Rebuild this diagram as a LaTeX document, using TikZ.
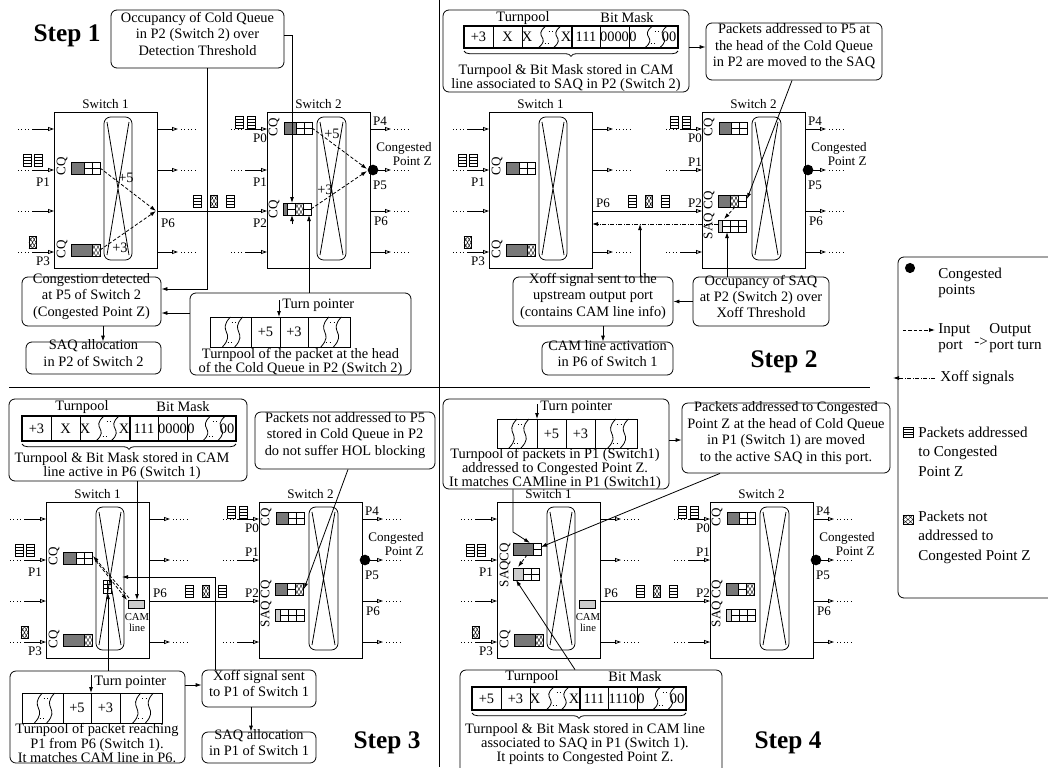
\documentclass[tikz,border=0pt]{standalone}
\usepackage{fontspec}
\setmainfont{Liberation Serif}
\usetikzlibrary{arrows.meta,positioning,fit,calc,decorations.pathreplacing}

\definecolor{qdark}{gray}{0.47}
\definecolor{qlight}{gray}{0.8}

\newcommand{\bxf}{\fontsize{10.8}{12.3}\selectfont}
\newcommand{\lbf}{\fontsize{9.8}{10.5}\selectfont}

% packet icons, centre given
\newcommand{\pktA}[2]{%
  \draw[fill=white] (#1-4,#2-6) rectangle (#1+4,#2+6);
  \draw (#1-4,#2-3) -- (#1+4,#2-3) (#1-4,#2) -- (#1+4,#2) (#1-4,#2+3) -- (#1+4,#2+3);}
\newcommand{\pktN}[2]{%
  \draw[fill=white] (#1-3.5,#2-6) rectangle (#1+3.5,#2+6);
  \draw[line width=0.3pt] (#1-3.5,#2-6) -- (#1+3.5,#2+6) (#1+3.5,#2-6) -- (#1-3.5,#2+6)
    (#1,#2-6) -- (#1+3.5,#2) -- (#1,#2+6) -- (#1-3.5,#2) -- cycle;}
% queue cells, top left corner given
\newcommand{\qhead}[4]{\draw[fill=#4] (#1,#2) rectangle ++(#3,12);}
\newcommand{\qcellA}[2]{\draw (#1,#2) rectangle ++(8,12) (#1,#2+6) -- ++(8,0);}
\newcommand{\qcellN}[2]{%
  \draw (#1,#2) rectangle ++(8,12);
  \draw[line width=0.3pt] (#1,#2) -- ++(8,12) (#1+8,#2) -- ++(-8,12)
    (#1+4,#2) -- (#1+8,#2+6) -- (#1+4,#2+12) -- (#1,#2+6) -- cycle;}
% two wavy cuts in a cell
\newcommand{\wavepair}[4]{%
  \pgfmathsetmacro{\wva}{#1+0.4*(#2-#1)}%
  \pgfmathsetmacro{\wvb}{#1+0.7*(#2-#1)}%
  \pgfmathsetmacro{\wvm}{(#3+#4)/2}%
  \foreach \wx in {\wva,\wvb}
    \draw (\wx+4,#3) .. controls (\wx-10,\wvm) and (\wx+10,\wvm) .. (\wx-4,#4);
  \draw[dotted] ({(\wva+\wvb)/2-1},#3+5) -- ++(6,0);
  \draw[dotted] ({(\wva+\wvb)/2-5},#4-5) -- ++(6,0);}
% turnpool row
\newcommand{\turnrow}[8]{%
  \draw (#1,#6) rectangle (#5,#7);
  \draw (#2,#6) -- (#2,#7) (#3,#6) -- (#3,#7) (#4,#6) -- (#4,#7);
  \wavepair{#1}{#2}{#6}{#7}
  \wavepair{#4}{#5}{#6}{#7}
  \node[cell] (#8a) at ({(#2+#3)/2},{(#6+#7)/2}) {+5};
  \node[cell] (#8b) at ({(#3+#4)/2},{(#6+#7)/2}) {+3};}
% turnpool + bit mask row
\newcommand{\camrow}[7]{%
  \begin{scope}[shift={(#1,0)}]
  \draw (29,#2) -- (29,#3) (58,#2) -- (58,#3) (136,#2) -- (136,#3) (165,#2) -- (165,#3);
  \draw[line width=1pt] (0,#2) rectangle (214,#3) (108,#2) -- (108,#3);
  \node[cell] (#7c1) at (14.5,{(#2+#3)/2}) {#4};
  \node[cell] (#7c2) at (43.5,{(#2+#3)/2}) {#5};
  \wavepair{58}{108}{#2}{#3}
  \node[cell] (#7x1) at (63,{(#2+#3)/2}) {X};
  \node[cell] (#7x2) at (102,{(#2+#3)/2}) {X};
  \node[cell] (#7c4) at (122,{(#2+#3)/2}) {111};
  \node[cell] (#7c5) at (150.5,{(#2+#3)/2}) {#6};
  \wavepair{165}{214}{#2}{#3}
  \node[cell] (#7z1) at (169,{(#2+#3)/2}) {0};
  \node[cell] (#7z2) at (205,{(#2+#3)/2}) {00};
  \draw[decorate,decoration={brace,mirror,amplitude=4pt}] (0,{#3+3}) -- (214,{#3+3});
  \end{scope}}
% the two switches of one step
\newcommand{\twoswitches}[5]{%
  \begin{scope}[shift={(#1,#2)}]
  % switch 1
  \draw (54,112) rectangle (157,268);
  \draw[rounded corners=5pt] (104,117) rectangle (132,260);
  \draw (107,122) -- (129,255) (129,122) -- (107,255);
  \node[lbl] (#3sw1) at (105.5,104) {Switch 1};
  \foreach \y in {129,170,211,252} {
    \draw[dotted] (18,\y) -- (31,\y);
    \draw[port] (32,\y) -- (54,\y);}
  \foreach \y in {129,170,252} {
    \draw[port] (157,\y) -- (178,\y);
    \draw[dotted] (181,\y) -- (197,\y);}
  \draw[port] (157,211) -- (267,211);
  \node[lbl] (#3p1) at (43,182) {P1};
  \node[lbl] (#3p3) at (43,261) {P3};
  \node[lbl] (#3p6) at (168,{211+(#4)}) {P6};
  \pktA{27}{160} \pktA{38}{160}
  \pktN{32.5}{242.5}
  \pktA{197}{201} \pktN{214}{201} \pktA{230}{201}
  % switch 2
  \draw (267,112) rectangle (370,268);
  \draw[rounded corners=5pt] (317,117) rectangle (346,260);
  \draw (320,122) -- (343,255) (343,122) -- (320,255);
  \node[lbl] (#3sw2) at (318.5,104) {Switch 2};
  \foreach \y in {129,170,252} {
    \draw[dotted] (231,\y) -- (244,\y);
    \draw[port] (245,\y) -- (267,\y);}
  \foreach \y in {129,170,211,252} {
    \draw[port] (370,\y) -- (391,\y);
    \draw[dotted] (394,\y) -- (410,\y);}
  \fill (373,170) circle[radius=4pt];
  \node[lbl] (#3q0) at (260,138) {P0};
  \node[lbl] (#3q1) at (260,{170+(#4)}) {P1};
  \node[lbl] (#3q2) at (260,{211+(#4)}) {P2};
  \node[lbl] (#3q4) at (380,121) {P4};
  \node[lbl] (#3q5) at (380,185) {P5};
  \node[lbl] (#3q6) at (381,221) {P6};
  \node[lbl,align=right,anchor=east] (#3cz) at (432,154) {Congested\\Point Z};
  \pktA{239}{122} \pktA{251}{122}
  % queues common to all steps
  \node[lbl,rotate=90] (#3c3) at (62,249) {CQ};
  \qhead{71}{244}{21}{qdark}\qcellN{92}{244}
  \node[lbl,rotate=90] (#3c0) at (274,127) {CQ};
  \qhead{284}{122}{12}{qdark}\qcellA{296}{122}\qcellA{304}{122}
  #5
  \end{scope}}

\begin{document}
\begin{tikzpicture}[x=0.75pt,y=-0.75pt,line width=0.6pt,
  box/.style={draw,rounded corners=4.5pt,inner sep=0pt,align=center,font=\bxf},
  lbl/.style={inner sep=0pt,align=center,font=\lbf},
  cell/.style={inner sep=0pt,align=center,font=\bxf},
  capt/.style={inner sep=0pt,align=center,font=\fontsize{10.8}{9.3}\selectfont},
  sml/.style={inner sep=0pt,font=\fontsize{8}{9}\selectfont},
  legt/.style={inner sep=0pt,align=left,anchor=west,font=\fontsize{11.3}{12.5}\selectfont},
  legp/.style={legt,font=\fontsize{11.3}{14.6}\selectfont},
  arr/.style={-{Latex[length=4.5pt,width=3pt]}},
  port/.style={-{Triangle[open,length=4.5pt,width=3pt]}},
  dsh/.style={arr,dash pattern=on 2.5pt off 1.5pt},
  xoff/.style={arr,dash pattern=on 3pt off 1.2pt on 0.6pt off 1.2pt},
  steplbl/.style={inner sep=0pt,font=\fontsize{19}{20}\selectfont\bfseries}]
\useasboundingbox (0,0) rectangle (1048,767);

\draw (439,0) -- (439,767);
\draw (9,387) -- (870,387);

% ---------------- Step 1
\node[steplbl] (st1) at (67,36) {Step 1};
\twoswitches{0}{0}{a}{12.5}{%
  \node[lbl,rotate=90] (ac1) at (62,166) {CQ};
  \qhead{71}{162}{13}{qdark}\qcellA{84}{162}\qcellA{92}{162}
  \node[lbl,rotate=90] (ac2) at (274,209) {CQ};
  \qhead{283}{203}{4}{qdark}\qcellA{287}{203}\qcellN{295}{203}\qcellA{303}{203}
  \draw[dsh] (100,168) -- (156,211);
  \draw[dsh] (100,250) -- (156,211);
  \node[cell] (aw5) at (126,178) {+5};
  \node[cell] (aw3) at (120,248) {+3};
  \draw[dsh] (312,128) -- (367,169);
  \draw[dsh] (311,209) -- (367,171);
  \node[cell] (av5) at (332,134) {+5};
  \node[cell] (av3) at (325,190) {+3};
  \draw[arr] (292,224) -- (292,215);
  \coordinate (aq2top) at (292,203);
  \coordinate (aq2bot) at (309,215);
}
\node[box,fit={(111,10)(284,68)}] (occ1) {Occupancy of Cold Queue\\in P2 (Switch 2) over\\Detection Threshold};
\node[box,fit={(22,277)(161,326)}] (cong1) {Congestion detected\\at P5 of Switch 2\\(Congested Point Z)};
\node[box,fit={(26,342)(161,374)}] (saq1) {SAQ allocation\\in P2 of Switch 2};
\node[box,fit={(190,293)(411,375)}] (tp1) {};
\draw[arr] (279,300) -- (279,317);
\node[cell,anchor=west] (tp1ptr) at (282,305) {Turn pointer};
\turnrow{210}{251}{280}{308}{350}{317}{347}{tp1}
\node[capt] (tp1txt) at (300.5,362) {Turnpool of the packet at the head\\of the Cold Queue in P2 (Switch 2)};
\draw[arr] ([yshift=3pt]occ1.east) -| (aq2top);
\coordinate (c1a) at (207,289);
\draw[arr] (occ1.south -| c1a) |- (cong1.east |- c1a);
\coordinate (c1b) at (0,313);
\draw[arr] (tp1.west |- c1b) -- (cong1.east |- c1b);
\coordinate (c1c) at (103,0);
\draw[arr] (cong1.south -| c1c) -- (saq1.north -| c1c);
\draw[arr] (tp1.north -| aq2bot) -- (aq2bot);

% ---------------- Step 2
\node[steplbl] (st2) at (784,362) {Step 2};
\twoswitches{435}{0}{b}{-8}{%
  \node[lbl,rotate=90] (bc1) at (62,166) {CQ};
  \qhead{71}{162}{13}{qdark}\qcellA{84}{162}\qcellA{92}{162}
  \node[lbl,rotate=90] (bc2) at (274,200) {CQ};
  \qhead{283}{195}{12}{qdark}\qcellN{295}{195}\qcellA{303}{195}
  \node[lbl,rotate=90] (bs2) at (274,226) {SAQ};
  \qhead{283}{220}{4}{qlight}\qcellA{287}{220}\qcellA{295}{220}\qcellA{303}{220}
  \draw[dsh] (300,207) -- (289,219);
  \coordinate (bq2r) at (312,199);
  \coordinate (bs2b) at (292,232);
  \coordinate (bs2l) at (283,224);
  \coordinate (bp6) at (157,224);
}
\node[box,fit={(443,10)(689,92)}] (cam2) {};
\node[cell] (cam2tp) at (523,18) {Turnpool};
\node[cell] (cam2bm) at (627,18) {Bit Mask};
\camrow{464}{26}{48}{+3}{X}{0000}{cam2}
\node[capt] (cam2txt) at (566,78) {Turnpool \& Bit Mask stored in CAM\\line associated to SAQ in P2 (Switch 2)};
\node[box,fit={(706,23)(882,80)}] (mov2) {Packets addressed to P5 at\\the head of the Cold Queue\\in P2 are moved to the SAQ};
\node[box,fit={(513,277)(673,326)}] (xoff2) {Xoff signal sent to the\\upstream output port\\(contains CAM line info)};
\node[box,fit={(542,342)(673,375)}] (act2) {CAM line activation\\in P6 of Switch 1};
\node[box,fit={(693,277)(829,326)}] (occ2) {Occupancy of SAQ\\at P2 (Switch 2) over\\Xoff Threshold};
\coordinate (c2a) at (0,47);
\draw[arr] (cam2.east |- c2a) -- (mov2.west |- c2a);
\coordinate (c2b) at (792,0);
\draw[arr] (mov2.south -| c2b) -- (bq2r);
\draw[arr] (occ2.north -| bs2b) -- (bs2b);
\draw[arr] (occ2) -- (xoff2);
\coordinate (c2c) at (640,224);
\draw[arr] (xoff2.north -| c2c) -- (c2c);
\coordinate (c2d) at (603,0);
\draw[arr] (xoff2.south -| c2d) -- (act2.north -| c2d);
\draw[xoff] (bs2l) -- (bp6);

% ---------------- Step 3
\node[steplbl] (st3) at (387,743) {Step 3};
\twoswitches{-8}{390}{c}{-8}{%
  \node[lbl,rotate=90] (cc1) at (62,166) {CQ};
  \qhead{71}{162}{13}{qdark}\qcellA{84}{162}\qcellA{92}{162}
  \draw (111,190) rectangle (119,203);
  \draw (115,190) -- (115,203) (111,194.3) -- (119,194.3) (111,198.7) -- (119,198.7);
  \draw[fill=qlight] (136,210) rectangle (152,218);
  \node[sml] (ccam1) at (145,227) {CAM};
  \node[sml] (ccam2) at (145,238) {line};
  \draw[dsh] (104,171) -- (135,210);
  \draw[dsh] (137,208) -- (101,166);
  \node[lbl,rotate=90] (cc2) at (274,199) {CQ};
  \qhead{283}{193}{12}{qdark}\qcellA{295}{193}\qcellN{303}{193}
  \node[lbl,rotate=90] (cs2) at (274,224) {SAQ};
  \qhead{283}{219}{5}{qlight}\qcellA{288}{219}\qcellA{296}{219}\qcellA{304}{219}
  \coordinate (ccamt) at (145,210);
  \coordinate (cpk) at (116,203);
  \coordinate (cxo) at (130,187);
  \coordinate (cq2r) at (312,199);
}
\node[box,fit={(9,399)(247,481)}] (cam3) {};
\node[cell] (cam3tp) at (82,407) {Turnpool};
\node[cell] (cam3bm) at (183,407) {Bit Mask};
\camrow{22}{416}{441}{+3}{X}{0000}{cam3}
\node[capt] (cam3txt) at (122,466) {Turnpool \& Bit Mask stored in CAM\\line active in P6 (Switch 1)};
\node[box,fit={(255,412)(435,469)}] (hol3) {Packets not addressed to P5\\stored in Cold Queue in P2\\do not suffer HOL blocking};
\node[box,fit={(10,671)(185,763)}] (tp3) {};
\draw[arr] (91,675) -- (91,693);
\node[cell,anchor=west] (tp3ptr) at (94,682) {Turn pointer};
\turnrow{22}{63}{91}{120}{162}{693}{723}{tp3}
\node[capt] (tp3txt) at (97,743) {Turnpool of packet reaching\\P1 from P6 (Switch 1).\\It matches CAM line in P6.};
\node[box,fit={(202,670)(316,707)}] (xoff3) {Xoff signal sent\\to P1 of Switch 1};
\node[box,fit={(202,732)(316,763)}] (saq3) {SAQ allocation\\in P1 of Switch 1};
\draw[arr] (cam3.south -| ccamt) -- (ccamt);
\coordinate (c3a) at (348,0);
\draw[arr] (hol3.south -| c3a) -- (cq2r);
\draw[arr] (tp3.north -| cpk) -- (cpk);
\coordinate (c3b) at (0,685);
\draw[arr] (tp3.east |- c3b) -- (xoff3.west |- c3b);
\coordinate (c3c) at (215,0);
\draw[arr] (xoff3.north -| c3c) |- (cxo);
\coordinate (c3d) at (251,0);
\draw[arr] (xoff3.south -| c3d) -- (saq3.north -| c3d);

% ---------------- Step 4
\node[steplbl] (st4) at (788,743) {Step 4};
\twoswitches{443}{390}{d}{-8}{%
  \node[lbl,rotate=90] (dc1) at (62,175) {SAQCQ};
  \qhead{70}{153}{20}{qdark}\qcellA{90}{153}
  \qhead{70}{178}{10}{qlight}\qcellA{80}{178}\qcellA{88}{178}
  \draw[dsh] (84,165) -- (75,177);
  \draw[fill=qlight] (136,210) rectangle (152,218);
  \node[sml] (dcam1) at (145,227) {CAM};
  \node[sml] (dcam2) at (145,238) {line};
  \node[lbl,rotate=90] (dc2) at (274,199) {CQ};
  \qhead{283}{193}{12}{qdark}\qcellA{295}{193}\qcellN{303}{193}
  \node[lbl,rotate=90] (ds2) at (274,224) {SAQ};
  \qhead{283}{219}{5}{qlight}\qcellA{288}{219}\qcellA{296}{219}\qcellA{304}{219}
  \coordinate (dq1t) at (87,153);
  \coordinate (dq1r) at (98,157);
  \coordinate (ds1b) at (73,190);
}
\node[box,fit={(443,399)(669,489)}] (tp4) {};
\draw[arr] (537,404) -- (537,419);
\node[cell,anchor=west] (tp4ptr) at (540,407) {Turn pointer};
\turnrow{497}{537}{566}{595}{637}{419}{448}{tp4}
\node[capt] (tp4txt) at (555,469) {Turnpool of packets in P1 (Switch1)\\addressed to Congested Point Z.\\It matches CAMline in P1 (Switch1)};
\node[box,fit={(682,403)(890,473)}] (mov4) {Packets addressed to Congested\\Point Z at the head of Cold Queue\\in P1 (Switch 1) are moved\\to the active SAQ in this port.};
\node[box,fit={(460,670)(722,775)}] (cam4) {};
\node[cell] (cam4tp) at (532,677) {Turnpool};
\node[cell] (cam4bm) at (635,677) {Bit Mask};
\camrow{472}{687}{710}{+5}{+3}{1110}{cam4}
\node[capt] (cam4txt) at (585,744) {Turnpool \& Bit Mask stored in CAM line\\associated to SAQ in P1 (Switch 1).\\It points to Congested Point Z.};
\coordinate (c4a) at (0,440);
\draw[arr] (tp4.east |- c4a) -- (mov4.west |- c4a);
\coordinate (c4b) at (513,532);
\draw[arr] (tp4.south -| c4b) -- (c4b) -- (dq1t);
\coordinate (c4c) at (720,0);
\draw[arr] (mov4.south -| c4c) -- (dq1r);
\coordinate (c4d) at (575,0);
\draw[arr] (cam4.north -| c4d) -- (ds1b);

% ---------------- legend
\node[box,fit={(898,257)(1070,598)}] (leg) {};
\fill (910,268) circle[radius=3.8pt];
\node[legt] (lg1) at (938,283) {Congested\\points};
\coordinate (lga) at (903,330);
\coordinate (lgb) at (935,330);
\draw[dsh] (lga) -- (lgb);
\node[legt] (lg2) at (938,338) {Input\\port};
\node[legt] (lg2b) at (974,342) {->};
\node[legt] (lg2c) at (989,338) {Output\\port turn};
\coordinate (lgc) at (935,378);
\coordinate (lgd) at (893,378);
\draw[xoff] (lgc) -- (lgd);
\node[legt] (lg3) at (940,378) {Xoff signals};
\draw (903,427) rectangle (913,437);
\draw (903,429.5) -- (913,429.5) (903,432) -- (913,432) (903,434.5) -- (913,434.5);
\node[legp] (lg4) at (918,451.5) {Packets addressed\\to Congested\\Point Z};
\draw (903,515) rectangle (913,524);
\draw[line width=0.3pt] (903,515) -- (913,524) (913,515) -- (903,524)
  (908,515) -- (913,519.5) -- (908,524) -- (903,519.5) -- cycle;
\node[legp] (lg5) at (918,537) {Packets not\\addressed to\\Congested Point Z};
\end{tikzpicture}
\end{document}
